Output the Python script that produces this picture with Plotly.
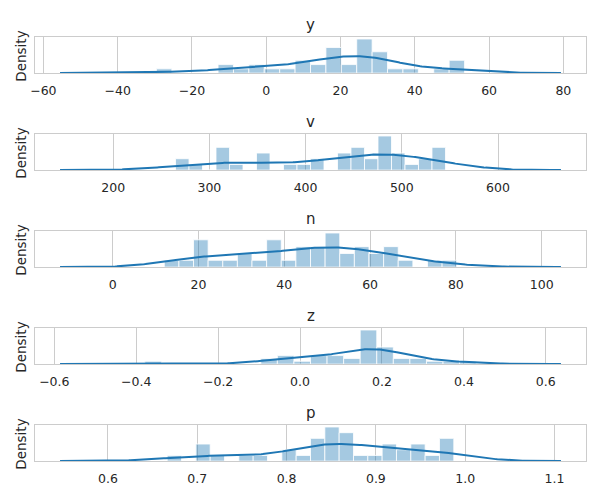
import numpy as np
import plotly.graph_objects as go

# ---- data ----
var_names = ["y", "v", "n", "z", "p"]

counts_y = [1, 0, 0, 0, 2, 1, 2, 1, 1, 3, 2, 6, 2, 8, 5, 1, 1, 0, 1, 3]
counts_v = [2, 1, 0, 4, 1, 0, 3, 0, 1, 1, 2, 0, 3, 4, 2, 6, 3, 1, 2, 4]
counts_n = [1, 1, 4, 1, 1, 2, 1, 4, 1, 3, 3, 5, 2, 3, 2, 3, 1, 0, 1, 1]
counts_z = [1, 0, 0, 0, 0, 0, 0, 2, 3, 1, 3, 3, 2, 12, 6, 2, 2, 1, 1, 1]
counts_p = [1, 0, 3, 1, 0, 1, 1, 0, 2, 1, 4, 6, 5, 1, 1, 3, 2, 3, 1, 4]

bin_lo = [-29.56, 264.8, 12.02, -0.379, 0.6663]
bin_hi = [53.4, 545.4, 80.2, 0.430, 0.9873]
kde_bw = [8.65, 40.0, 8.1, 0.069, 0.040]

tick_vals = [
    [-60, -40, -20, 0, 20, 40, 60, 80],
    [200, 300, 400, 500, 600],
    [0, 20, 40, 60, 80, 100],
    [-0.6, -0.4, -0.2, 0.0, 0.2, 0.4, 0.6],
    [0.6, 0.7, 0.8, 0.9, 1.0, 1.1],
]
tick_text = [
    ["\u221260", "\u221240", "\u221220", "0", "20", "40", "60", "80"],
    ["200", "300", "400", "500", "600"],
    ["0", "20", "40", "60", "80", "100"],
    ["\u22120.6", "\u22120.4", "\u22120.2", "0.0", "0.2", "0.4", "0.6"],
    ["0.6", "0.7", "0.8", "0.9", "1.0", "1.1"],
]
all_counts = [counts_y, counts_v, counts_n, counts_z, counts_p]

# ---- styling / layout ----
W, H = 600, 500
PX_L, PX_R = 35, 586
TOP0, PERIOD, AX_H = 37.3, 97.0, 35.8
FONT = "DejaVu Sans"
TXT = "#262626"
GRID = "#cccccc"
BLUE = "#1f77b4"

fig = go.Figure()
layout = dict(
    width=W, height=H, margin=dict(l=0, r=0, t=0, b=0),
    template="none", showlegend=False,
    paper_bgcolor="white", plot_bgcolor="white",
    font=dict(family=FONT, color=TXT, size=12.5),
)
annotations = []

for i, name in enumerate(var_names):
    c = np.array(all_counts[i], dtype=float)
    nb = len(c)
    edges = np.linspace(bin_lo[i], bin_hi[i], nb + 1)
    width = edges[1] - edges[0]
    centers = (edges[:-1] + edges[1:]) / 2
    N = c.sum()
    dens = c / (N * width)

    bw = kde_bw[i]
    lo, hi = bin_lo[i] - 3 * bw, bin_hi[i] + 3 * bw
    gx = np.linspace(lo, hi, 300)
    kde = (c[None, :] * np.exp(-0.5 * ((gx[:, None] - centers[None, :]) / bw) ** 2)).sum(axis=1)
    kde = kde / (N * bw * np.sqrt(2 * np.pi))

    span = hi - lo
    xr = [lo - 0.05 * span, hi + 0.05 * span]
    ymax = 1.05 * max(dens.max(), kde.max())

    sfx = "" if i == 0 else str(i + 1)
    xa, ya = "x" + sfx, "y" + sfx

    fig.add_trace(go.Bar(
        x=centers, y=dens, width=width, xaxis=xa, yaxis=ya,
        marker=dict(color="rgba(31,119,180,0.4)", line=dict(color="rgba(255,255,255,0.8)", width=1)),
        hoverinfo="skip",
    ))
    fig.add_trace(go.Scatter(
        x=gx, y=kde, mode="lines", xaxis=xa, yaxis=ya,
        line=dict(color=BLUE, width=2), hoverinfo="skip",
    ))

    top_px = TOP0 + PERIOD * i
    bot_px = top_px + AX_H
    dom_y = [1 - bot_px / H, 1 - top_px / H]

    layout["xaxis" + sfx] = dict(
        domain=[PX_L / W, PX_R / W], anchor=ya, range=xr,
        tickvals=tick_vals[i], ticktext=tick_text[i],
        showgrid=True, gridcolor=GRID, gridwidth=1, zeroline=False,
        showline=True, linecolor=GRID, linewidth=1, mirror=True,
        ticks="outside", ticklen=6, tickcolor="rgba(0,0,0,0)",
        tickfont=dict(family=FONT, color=TXT, size=12.5),
        automargin=False,
    )
    layout["yaxis" + sfx] = dict(
        domain=dom_y, anchor=xa, range=[0, ymax],
        showticklabels=False, showgrid=False, zeroline=False,
        showline=True, linecolor=GRID, linewidth=1, mirror=True,
        ticks="", automargin=False,
    )
    annotations.append(dict(
        text=name, xref="paper", yref="paper",
        x=(PX_L + PX_R) / 2 / W, y=1 - (top_px - 12.5) / H,
        xanchor="center", yanchor="middle", showarrow=False,
        font=dict(family=FONT, color=TXT, size=15),
    ))
    annotations.append(dict(
        text="Density", xref="paper", yref="paper",
        x=21.5 / W, y=1 - (top_px + AX_H / 2 + 1) / H,
        xanchor="center", yanchor="middle", showarrow=False, textangle=-90,
        font=dict(family=FONT, color=TXT, size=13.5),
    ))

layout["annotations"] = annotations
fig.update_layout(**layout)
fig.write_html("out.html")
